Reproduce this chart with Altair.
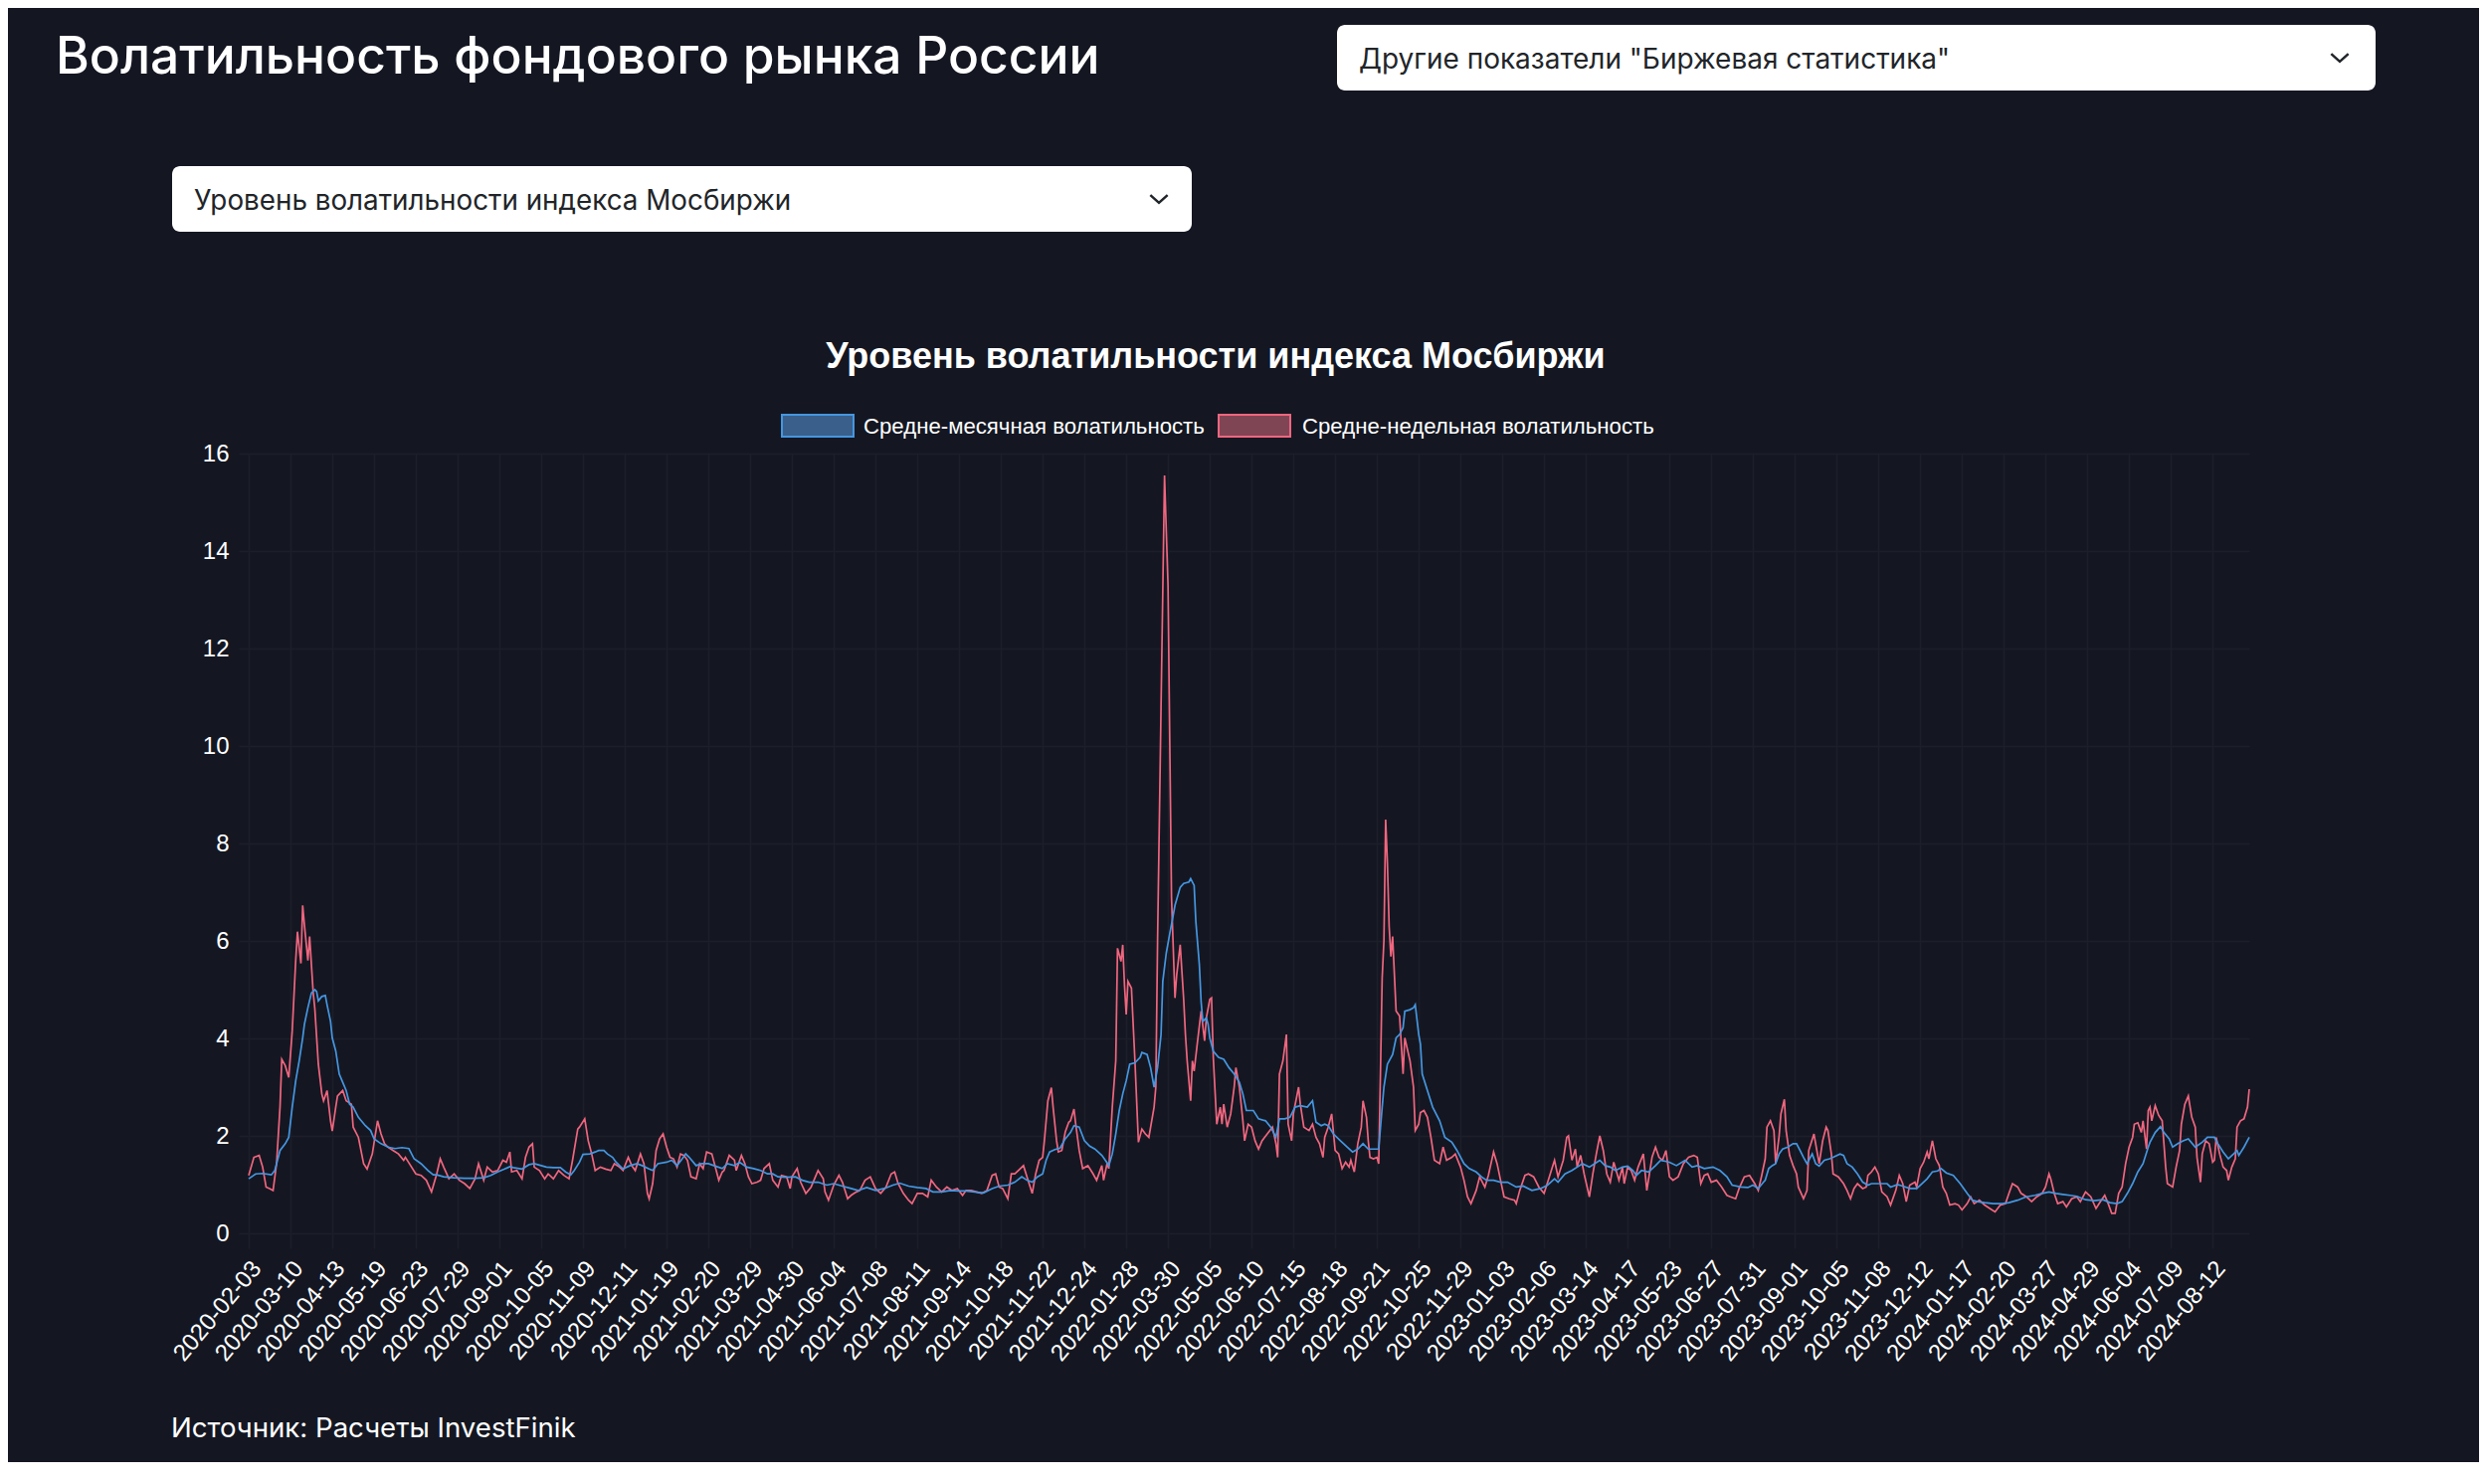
import json
import altair as alt
import pandas as pd

# ---------------- data ----------------
TICK_LABELS = [
    "2020-02-03", "2020-03-10", "2020-04-13", "2020-05-19", "2020-06-23", "2020-07-29",
    "2020-09-01", "2020-10-05", "2020-11-09", "2020-12-11",
    "2021-01-19", "2021-02-20", "2021-03-29", "2021-04-30", "2021-06-04", "2021-07-08",
    "2021-08-11", "2021-09-14", "2021-10-18", "2021-11-22", "2021-12-24",
    "2022-01-28", "2022-03-30", "2022-05-05", "2022-06-10", "2022-07-15", "2022-08-18",
    "2022-09-21", "2022-10-25", "2022-11-29",
    "2023-01-03", "2023-02-06", "2023-03-14", "2023-04-17", "2023-05-23", "2023-06-27",
    "2023-07-31", "2023-09-01", "2023-10-05", "2023-11-08", "2023-12-12",
    "2024-01-17", "2024-02-20", "2024-03-27", "2024-04-29", "2024-06-04", "2024-07-09",
    "2024-08-12",
]
TICK_STEP = 24          # trading days between shown labels
LAST_INDEX = 1149       # index of the last trading day in the series

SERIES = ["Средне-месячная волатильность", "Средне-недельная волатильность"]

# monthly average volatility (trading-day index, value)
MONTHLY_IDX = [0, 4, 8, 13, 15, 18, 21, 23, 25, 27, 29, 31, 32, 34, 36, 38, 39, 40, 42, 44, 45, 47, 48, 50, 52, 54, 56, 58, 60, 63, 67, 70, 72, 76, 80, 84, 88, 92, 95, 99, 103, 106, 108, 112, 118, 124, 130, 135, 139, 143, 147, 150, 152, 157, 161, 164, 168, 171, 175, 179, 182, 185, 187, 190, 192, 196, 199, 201, 204, 206, 209, 211, 215, 219, 223, 226, 230, 232, 235, 240, 243, 246, 249, 251, 253, 257, 260, 264, 268, 272, 275, 279, 282, 286, 290, 294, 298, 301, 304, 309, 314, 318, 322, 327, 332, 336, 341, 346, 350, 355, 360, 365, 370, 374, 379, 384, 389, 393, 398, 403, 408, 412, 417, 422, 427, 431, 436, 440, 444, 447, 450, 453, 456, 458, 460, 463, 466, 469, 472, 474, 477, 480, 483, 486, 490, 492, 494, 496, 498, 500, 502, 504, 506, 509, 512, 513, 516, 518, 520, 522, 524, 525, 527, 529, 531, 532, 535, 537, 540, 541, 543, 544, 546, 547, 548, 550, 551, 552, 554, 557, 560, 563, 566, 569, 571, 573, 577, 580, 584, 587, 590, 592, 595, 598, 601, 604, 608, 611, 613, 616, 618, 620, 623, 627, 631, 634, 637, 640, 643, 646, 649, 651, 652, 654, 657, 659, 661, 663, 664, 667, 669, 670, 672, 673, 674, 677, 680, 684, 687, 691, 694, 698, 701, 705, 708, 711, 715, 719, 723, 728, 732, 737, 742, 746, 750, 752, 756, 760, 763, 766, 770, 773, 776, 779, 782, 785, 789, 792, 795, 797, 800, 804, 808, 811, 816, 820, 825, 829, 832, 836, 841, 845, 849, 852, 857, 861, 864, 867, 870, 871, 873, 875, 877, 879, 881, 884, 887, 889, 891, 893, 895, 898, 900, 902, 905, 908, 910, 914, 916, 918, 921, 924, 927, 930, 932, 937, 941, 943, 947, 950, 954, 958, 961, 964, 967, 970, 972, 975, 979, 983, 987, 990, 993, 997, 1002, 1007, 1011, 1016, 1021, 1026, 1030, 1034, 1038, 1042, 1046, 1050, 1055, 1060, 1065, 1069, 1073, 1076, 1079, 1082, 1085, 1088, 1091, 1092, 1095, 1098, 1100, 1103, 1105, 1108, 1111, 1114, 1118, 1122, 1125, 1129, 1131, 1134, 1137, 1140, 1142, 1143, 1146, 1149]
MONTHLY_VAL = [1.12, 1.22, 1.23, 1.2, 1.29, 1.7, 1.84, 1.97, 2.59, 3.13, 3.54, 4.01, 4.29, 4.63, 4.93, 5.0, 4.96, 4.77, 4.86, 4.88, 4.69, 4.35, 4.01, 3.74, 3.27, 3.1, 2.93, 2.65, 2.59, 2.38, 2.21, 2.11, 1.94, 1.84, 1.77, 1.74, 1.76, 1.74, 1.53, 1.43, 1.29, 1.2, 1.2, 1.16, 1.14, 1.13, 1.13, 1.14, 1.19, 1.26, 1.32, 1.37, 1.35, 1.32, 1.41, 1.43, 1.39, 1.36, 1.35, 1.35, 1.26, 1.2, 1.29, 1.46, 1.62, 1.63, 1.67, 1.7, 1.7, 1.63, 1.56, 1.46, 1.32, 1.39, 1.43, 1.39, 1.32, 1.29, 1.43, 1.46, 1.5, 1.39, 1.53, 1.63, 1.56, 1.39, 1.43, 1.43, 1.38, 1.33, 1.43, 1.39, 1.46, 1.36, 1.33, 1.29, 1.22, 1.22, 1.16, 1.15, 1.16, 1.09, 1.05, 1.05, 0.99, 1.02, 0.97, 0.92, 0.88, 0.94, 0.88, 0.92, 0.99, 1.03, 0.97, 0.94, 0.92, 0.85, 0.85, 0.88, 0.87, 0.87, 0.85, 0.83, 0.92, 0.97, 0.99, 1.05, 1.16, 1.09, 1.05, 1.16, 1.22, 1.5, 1.67, 1.72, 1.75, 1.94, 2.07, 2.21, 2.18, 1.9, 1.79, 1.73, 1.6, 1.5, 1.39, 1.63, 2.04, 2.52, 2.86, 3.13, 3.47, 3.5, 3.61, 3.71, 3.67, 3.4, 3.0, 3.4, 4.08, 5.17, 5.75, 6.15, 6.53, 6.73, 7.1, 7.18, 7.21, 7.28, 7.14, 6.39, 5.51, 4.76, 4.35, 4.42, 4.29, 4.01, 3.74, 3.61, 3.57, 3.4, 3.27, 3.1, 2.86, 2.52, 2.52, 2.35, 2.31, 2.18, 1.97, 2.35, 2.35, 2.38, 2.59, 2.62, 2.59, 2.72, 2.28, 2.21, 2.24, 2.21, 2.04, 1.9, 1.77, 1.67, 1.73, 1.84, 1.73, 1.73, 1.73, 2.59, 3.0, 3.47, 3.67, 4.01, 4.08, 4.22, 4.56, 4.59, 4.63, 4.69, 4.08, 3.88, 3.27, 2.93, 2.59, 2.31, 1.97, 1.87, 1.7, 1.43, 1.33, 1.26, 1.16, 1.09, 1.09, 1.05, 1.05, 0.95, 0.97, 0.88, 0.92, 0.99, 1.12, 1.05, 1.22, 1.29, 1.36, 1.43, 1.36, 1.43, 1.5, 1.39, 1.36, 1.29, 1.36, 1.38, 1.29, 1.19, 1.29, 1.26, 1.39, 1.5, 1.46, 1.39, 1.5, 1.36, 1.39, 1.33, 1.36, 1.29, 1.16, 0.99, 0.95, 0.94, 0.99, 0.92, 1.05, 1.09, 1.33, 1.39, 1.43, 1.63, 1.73, 1.77, 1.84, 1.84, 1.7, 1.56, 1.43, 1.63, 1.43, 1.38, 1.5, 1.53, 1.56, 1.63, 1.6, 1.43, 1.36, 1.22, 1.05, 0.99, 1.02, 1.02, 1.02, 0.95, 1.0, 0.97, 0.92, 0.92, 1.02, 1.12, 1.26, 1.28, 1.33, 1.24, 1.19, 1.02, 0.82, 0.68, 0.65, 0.63, 0.61, 0.61, 0.63, 0.68, 0.75, 0.78, 0.82, 0.85, 0.82, 0.8, 0.78, 0.76, 0.69, 0.67, 0.69, 0.63, 0.61, 0.65, 0.82, 1.02, 1.26, 1.43, 1.77, 1.87, 2.07, 2.19, 2.07, 1.94, 1.77, 1.84, 1.9, 1.94, 1.77, 1.87, 1.97, 1.97, 1.84, 1.67, 1.53, 1.63, 1.7, 1.6, 1.77, 1.97]

# weekly average volatility (trading-day index, value)
WEEKLY_IDX = [0, 3, 6, 8, 10, 12, 14, 16, 18, 19, 21, 23, 25, 27, 28, 30, 31, 32, 34, 35, 37, 38, 40, 42, 43, 45, 47, 48, 50, 51, 54, 56, 59, 60, 63, 66, 68, 71, 74, 76, 78, 80, 83, 86, 89, 90, 93, 96, 99, 102, 105, 108, 110, 112, 115, 118, 121, 124, 127, 130, 132, 135, 137, 140, 143, 146, 148, 150, 151, 154, 157, 159, 161, 163, 164, 167, 170, 172, 175, 178, 181, 184, 186, 189, 190, 193, 195, 197, 199, 202, 205, 208, 210, 213, 215, 218, 220, 222, 225, 227, 229, 230, 232, 234, 236, 238, 240, 242, 244, 246, 248, 250, 252, 254, 257, 259, 261, 263, 266, 268, 270, 272, 273, 276, 279, 280, 283, 285, 287, 289, 292, 294, 296, 299, 301, 304, 306, 309, 311, 312, 315, 317, 320, 323, 325, 327, 330, 331, 333, 336, 339, 341, 344, 346, 349, 351, 354, 357, 360, 363, 366, 369, 371, 373, 376, 379, 381, 384, 387, 390, 392, 395, 398, 401, 404, 407, 410, 412, 415, 418, 421, 424, 427, 429, 431, 433, 436, 438, 440, 442, 445, 447, 450, 452, 454, 456, 457, 459, 461, 462, 464, 465, 467, 469, 471, 472, 474, 475, 477, 479, 482, 485, 487, 490, 491, 493, 494, 496, 498, 499, 501, 502, 503, 504, 505, 507, 509, 511, 513, 515, 517, 520, 521, 522, 524, 526, 528, 530, 532, 533, 535, 537, 538, 539, 541, 542, 543, 545, 547, 549, 550, 552, 553, 554, 556, 558, 559, 560, 562, 564, 566, 567, 569, 571, 572, 574, 576, 578, 580, 582, 585, 588, 590, 591, 592, 594, 596, 597, 599, 600, 603, 604, 606, 609, 611, 613, 615, 617, 618, 620, 622, 624, 626, 628, 630, 632, 633, 635, 637, 639, 640, 642, 643, 644, 646, 648, 649, 650, 651, 652, 653, 654, 655, 656, 657, 659, 661, 663, 664, 667, 669, 670, 672, 673, 675, 677, 679, 681, 684, 686, 688, 691, 693, 696, 698, 700, 702, 705, 707, 709, 710, 712, 715, 717, 719, 721, 724, 727, 728, 730, 733, 735, 738, 741, 744, 747, 749, 750, 752, 755, 757, 758, 760, 762, 763, 765, 767, 770, 772, 774, 776, 778, 780, 782, 784, 787, 789, 790, 792, 794, 796, 798, 801, 803, 806, 808, 810, 812, 814, 816, 818, 821, 824, 827, 830, 832, 834, 836, 838, 840, 843, 846, 849, 851, 854, 856, 859, 862, 865, 867, 869, 871, 872, 874, 876, 877, 879, 880, 882, 883, 885, 887, 889, 890, 893, 895, 896, 899, 901, 902, 904, 906, 907, 909, 910, 913, 916, 918, 920, 922, 924, 927, 929, 930, 932, 934, 936, 938, 941, 943, 946, 948, 950, 952, 954, 957, 958, 960, 962, 964, 965, 967, 969, 971, 973, 975, 977, 980, 982, 984, 987, 989, 991, 994, 997, 1000, 1003, 1006, 1009, 1011, 1013, 1016, 1018, 1021, 1024, 1027, 1030, 1032, 1034, 1035, 1037, 1039, 1042, 1044, 1047, 1050, 1052, 1055, 1058, 1061, 1064, 1066, 1068, 1070, 1072, 1074, 1076, 1078, 1080, 1082, 1083, 1085, 1087, 1088, 1090, 1091, 1092, 1093, 1095, 1097, 1099, 1101, 1102, 1105, 1107, 1109, 1110, 1112, 1114, 1116, 1118, 1119, 1121, 1122, 1124, 1126, 1128, 1129, 1130, 1132, 1134, 1136, 1137, 1139, 1141, 1142, 1144, 1146, 1148, 1149]
WEEKLY_VAL = [1.19, 1.56, 1.6, 1.36, 0.95, 0.92, 0.88, 1.43, 2.6, 3.57, 3.44, 3.2, 4.15, 5.6, 6.19, 5.54, 6.73, 6.33, 5.6, 6.09, 4.96, 4.6, 3.47, 2.86, 2.72, 2.93, 2.31, 2.1, 2.59, 2.82, 2.93, 2.72, 2.65, 2.18, 1.97, 1.43, 1.32, 1.63, 2.31, 2.04, 1.84, 1.77, 1.7, 1.63, 1.5, 1.56, 1.39, 1.22, 1.19, 1.09, 0.85, 1.22, 1.53, 1.36, 1.12, 1.22, 1.09, 1.02, 0.92, 1.12, 1.43, 1.09, 1.36, 1.26, 1.29, 1.5, 1.46, 1.67, 1.26, 1.29, 1.12, 1.56, 1.77, 1.84, 1.36, 1.29, 1.12, 1.22, 1.12, 1.29, 1.19, 1.12, 1.5, 2.14, 2.18, 2.35, 1.9, 1.63, 1.29, 1.36, 1.32, 1.29, 1.43, 1.36, 1.29, 1.56, 1.39, 1.29, 1.63, 1.43, 0.82, 0.71, 1.02, 1.7, 1.94, 2.04, 1.77, 1.56, 1.53, 1.36, 1.63, 1.6, 1.5, 1.16, 1.12, 1.43, 1.33, 1.67, 1.63, 1.36, 1.09, 1.26, 1.29, 1.6, 1.5, 1.29, 1.6, 1.43, 1.16, 1.02, 1.05, 1.09, 1.33, 1.43, 1.09, 0.95, 1.19, 1.16, 0.92, 1.16, 1.33, 1.05, 0.82, 0.95, 1.12, 1.29, 1.12, 0.85, 0.68, 0.99, 1.19, 1.05, 0.71, 0.78, 0.85, 0.88, 1.09, 1.16, 0.92, 0.82, 0.95, 1.22, 1.26, 1.02, 0.82, 0.68, 0.61, 0.82, 0.82, 0.75, 1.09, 0.95, 0.85, 0.95, 0.88, 0.92, 0.78, 0.88, 0.88, 0.85, 0.82, 0.88, 1.19, 1.22, 0.95, 0.92, 0.71, 1.22, 1.22, 1.29, 1.39, 1.16, 0.82, 1.22, 1.5, 1.56, 1.9, 2.72, 2.99, 2.59, 1.9, 1.67, 1.7, 2.08, 2.28, 2.31, 2.55, 2.24, 1.7, 1.33, 1.39, 1.22, 1.09, 1.39, 1.09, 1.43, 1.33, 2.59, 3.54, 5.85, 5.58, 5.92, 5.1, 4.49, 5.17, 5.03, 3.54, 1.87, 2.14, 2.04, 1.97, 2.59, 3.0, 6.0, 10.8, 15.55, 13.3, 6.9, 4.83, 5.31, 5.92, 4.8, 4.08, 3.54, 2.72, 3.54, 3.33, 3.95, 4.56, 3.95, 4.42, 4.8, 4.83, 3.61, 2.24, 2.59, 2.24, 2.65, 2.18, 2.45, 3.0, 3.4, 3.0, 2.31, 1.9, 2.24, 2.18, 1.9, 1.73, 1.9, 2.04, 2.18, 1.84, 1.56, 3.27, 3.54, 4.08, 2.24, 1.9, 2.45, 3.0, 2.65, 2.18, 2.11, 2.24, 1.97, 1.84, 1.56, 1.97, 2.18, 2.45, 1.7, 1.63, 1.33, 1.46, 1.36, 1.5, 1.26, 1.84, 2.18, 2.72, 2.38, 1.9, 1.56, 1.53, 1.56, 1.43, 3.27, 5.24, 6.0, 8.49, 7.6, 6.3, 5.68, 6.09, 4.56, 4.46, 3.27, 4.01, 3.54, 3.0, 2.11, 2.24, 2.48, 2.52, 2.38, 1.97, 1.5, 1.43, 1.77, 1.5, 1.56, 1.63, 1.36, 1.09, 0.75, 0.61, 0.88, 1.16, 1.02, 0.95, 1.19, 1.67, 1.43, 1.09, 0.75, 0.71, 0.68, 0.61, 0.88, 1.19, 1.22, 1.16, 0.95, 0.82, 1.16, 1.39, 1.5, 1.16, 1.5, 1.97, 2.0, 1.5, 1.73, 1.36, 1.6, 1.22, 0.75, 1.22, 1.63, 2.0, 1.7, 1.22, 1.05, 1.46, 1.09, 1.36, 1.02, 1.36, 1.29, 1.09, 1.36, 1.63, 0.88, 1.56, 1.77, 1.56, 1.5, 1.7, 1.16, 1.09, 1.16, 1.43, 1.56, 1.6, 1.56, 1.02, 1.19, 1.22, 1.05, 1.09, 0.95, 0.78, 0.75, 0.71, 0.92, 1.16, 1.19, 1.02, 0.88, 1.19, 1.53, 2.18, 2.31, 2.11, 1.43, 2.0, 2.45, 2.75, 2.11, 1.6, 1.39, 1.22, 0.95, 0.71, 0.88, 1.7, 2.04, 1.63, 1.43, 1.9, 2.18, 2.11, 1.63, 1.22, 1.16, 1.02, 0.88, 0.71, 0.92, 1.02, 0.92, 0.95, 1.19, 1.26, 1.36, 1.22, 0.85, 0.75, 0.58, 0.88, 1.19, 1.02, 0.65, 0.99, 1.05, 0.95, 1.33, 1.46, 1.67, 1.53, 1.9, 1.53, 1.39, 0.95, 0.82, 0.58, 0.61, 0.58, 0.48, 0.61, 0.75, 0.61, 0.68, 0.58, 0.51, 0.44, 0.58, 0.61, 0.82, 1.02, 0.95, 0.82, 0.75, 0.65, 0.75, 0.82, 0.95, 1.22, 1.12, 0.82, 0.61, 0.65, 0.54, 0.71, 0.75, 0.65, 0.85, 0.75, 0.51, 0.68, 0.78, 0.61, 0.41, 0.41, 0.82, 0.95, 1.43, 1.77, 1.97, 2.24, 2.27, 2.07, 2.31, 1.73, 2.52, 2.59, 2.31, 2.62, 2.42, 2.31, 1.36, 1.02, 0.95, 1.36, 1.7, 2.24, 2.65, 2.82, 2.38, 2.18, 1.56, 1.05, 1.63, 1.9, 1.84, 1.46, 1.5, 1.97, 1.63, 1.36, 1.29, 1.09, 1.36, 1.53, 2.18, 2.31, 2.35, 2.59, 2.96]

# ---------------- styles ----------------
BG = "#141722"
GRID = "#1c1f2a"
BLUE = "#4596e0"
RED = "#f0667f"
BLUE_FILL = "#3a5f8a"
RED_FILL = "#804555"
W, H = 2011, 784
PLOT_X0, PLOT_Y0 = 250, 456   # page position of the plot area (incl. 8px body margin)


def px(x):
    return x - PLOT_X0


def py(y):
    return y - PLOT_Y0


monthly = pd.DataFrame({"idx": MONTHLY_IDX, "val": MONTHLY_VAL, "series": SERIES[0]})
weekly = pd.DataFrame({"idx": WEEKLY_IDX, "val": WEEKLY_VAL, "series": SERIES[1]})

label_expr = f"{json.dumps(TICK_LABELS)}[floor(datum.value / {TICK_STEP} + 0.5)]"

x_enc = alt.X(
    "idx:Q",
    scale=alt.Scale(domain=[0, LAST_INDEX], nice=False, zero=False),
    axis=alt.Axis(
        values=[i * TICK_STEP for i in range(len(TICK_LABELS))],
        labelExpr=label_expr,
        labelAngle=-50,
        labelAlign="right",
        labelBaseline="middle",
        labelFontSize=24,
        labelFont="Liberation Sans",
        labelColor="#ffffff",
        labelPadding=16,
        labelOffset=8,
        labelOverlap=False,
        labelBound=False,
        labelFlush=False,
        grid=True,
        gridColor=GRID,
        gridWidth=1.5,
        ticks=True,
        tickSize=15,
        tickColor=GRID,
        tickWidth=1.5,
        domain=False,
        title=None,
    ),
)
y_enc = alt.Y(
    "val:Q",
    scale=alt.Scale(domain=[0, 16], nice=False),
    axis=alt.Axis(
        values=list(range(0, 17, 2)),
        labelFontSize=24,
        labelFont="Liberation Sans",
        labelColor="#ffffff",
        labelPadding=10,
        grid=True,
        gridColor=GRID,
        gridWidth=1.5,
        ticks=True,
        tickSize=10,
        tickColor=GRID,
        tickWidth=1.5,
        domain=False,
        title=None,
    ),
)

red_line = alt.Chart(weekly).mark_line(color=RED, strokeWidth=1.7).encode(x=x_enc, y=y_enc)
blue_line = alt.Chart(monthly).mark_line(color=BLUE, strokeWidth=1.7).encode(x="idx:Q", y="val:Q")

one = pd.DataFrame({"k": [0]})


def text_layer(txt, x, y, size, font, color="#ffffff", weight="normal", align="left", baseline="alphabetic"):
    return alt.Chart(one).mark_text(
        text=txt, fontSize=size, font=font, color=color, fontWeight=weight,
        align=align, baseline=baseline,
    ).encode(x=alt.value(px(x)), y=alt.value(py(y)))


def rect_layer(x1, x2, y1, y2, fill, stroke=None, sw=0, radius=0):
    kw = dict(fill=fill, cornerRadius=radius)
    if stroke:
        kw.update(stroke=stroke, strokeWidth=sw)
    return alt.Chart(one).mark_rect(**kw).encode(
        x=alt.value(px(x1)), x2=alt.value(px(x2)), y=alt.value(py(y1)), y2=alt.value(py(y2))
    )


def chevron(x, y):
    return alt.Chart(one).mark_point(
        shape="M -1 -0.45 L 0 0.45 L 1 -0.45", filled=False, stroke="#212529",
        strokeWidth=2.5, size=300, opacity=1,
    ).encode(x=alt.value(px(x)), y=alt.value(py(y)))


layers = [
    red_line,
    blue_line,
    # page header
    text_layer("Волатильность фондового рынка России", 56, 74, 51.5, "Inter", weight=500),
    rect_layer(1344, 2388, 25, 91, "#ffffff", radius=8),
    text_layer('Другие показатели "Биржевая статистика"', 1366, 69, 28, "Inter", color="#212529"),
    chevron(2352, 58),
    rect_layer(173, 1198, 167, 233, "#ffffff", radius=8),
    text_layer("Уровень волатильности индекса Мосбиржи", 195, 211, 27.8, "Inter", color="#212529"),
    chevron(1165, 200),
    # chart title
    text_layer("Уровень волатильности индекса Мосбиржи", 1222, 370, 36, "Liberation Sans",
               weight="bold", align="center"),
    # legend
    rect_layer(786, 858, 417, 439, BLUE_FILL, stroke=BLUE, sw=2),
    text_layer(SERIES[0], 868, 429, 22.2, "Liberation Sans", baseline="middle"),
    rect_layer(1225, 1297, 417, 439, RED_FILL, stroke=RED, sw=2),
    text_layer(SERIES[1], 1309, 429, 22.2, "Liberation Sans", baseline="middle"),
    # source
    text_layer("Источник: Расчеты InvestFinik", 172, 1437, 27.6, "Inter", baseline="middle"),
]

chart = (
    alt.layer(*layers)
    .properties(
        width=W,
        height=H,
        background=BG,
        autosize=alt.AutoSizeParams(type="none"),
        padding={"left": PLOT_X0 - 8, "top": PLOT_Y0 - 8, "right": 2484 - (PLOT_X0 - 8) - W, "bottom": 230},
    )
    .configure_view(stroke=None)
)

chart.save("out.html", embed_options={"renderer": "svg", "actions": False})
